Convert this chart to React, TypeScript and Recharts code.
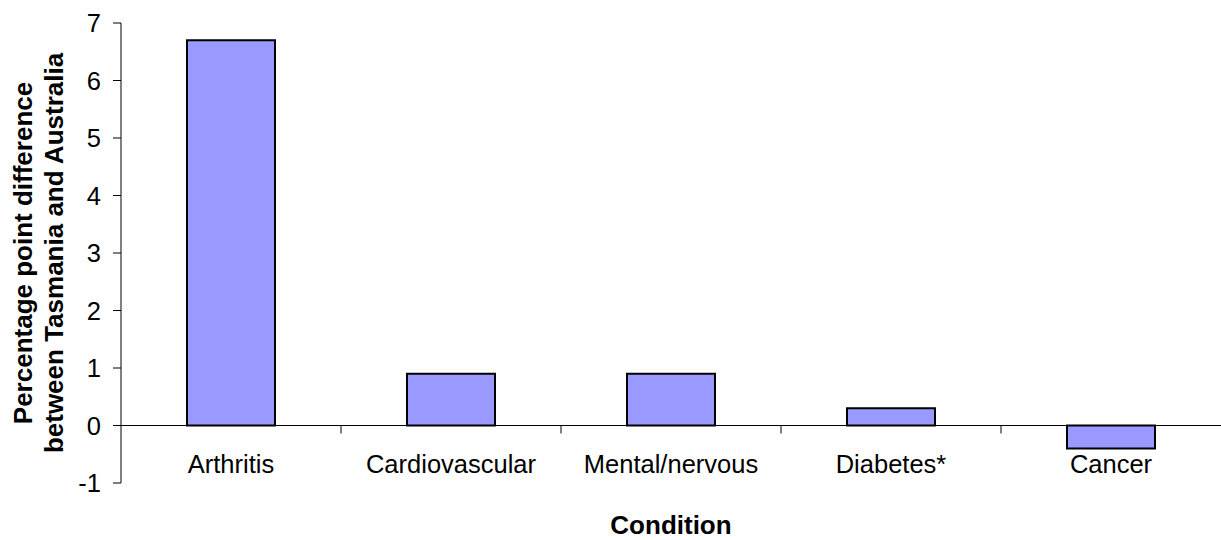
import React from 'react';
import { BarChart, Bar, XAxis, YAxis, ReferenceLine } from 'recharts';

// categories and values (percentage point difference, Tas vs Aus)
const conditions = ['Arthritis', 'Cardiovascular', 'Mental/nervous', 'Diabetes*', 'Cancer'];
const differences = [6.7, 0.9, 0.9, 0.3, -0.4];
const yTicks = [-1, 0, 1, 2, 3, 4, 5, 6, 7];

const data = conditions.map((name, i) => ({ name, value: differences[i] }));

const FONT = '"Liberation Sans", Arial, sans-serif';

const CategoryTick = (props: any) => {
  const { x, y, payload } = props;
  return (
    <text x={x} y={y - 10} textAnchor="middle" fontFamily={FONT} fontSize={25.5} fill="#000">
      {payload.value}
    </text>
  );
};

// zero line with tick marks between categories
const ZeroAxis = (props: any) => {
  const { x1, x2, y1 } = props;
  const step = (x2 - x1) / conditions.length;
  return (
    <g>
      <line x1={x1} x2={x2} y1={y1} y2={y1} stroke="#000" strokeWidth={1} />
      {conditions.slice(1).map((_, i) => (
        <line
          key={i}
          x1={x1 + step * (i + 1)}
          x2={x1 + step * (i + 1)}
          y1={y1}
          y2={y1 + 8}
          stroke="#000"
          strokeWidth={1}
        />
      ))}
    </g>
  );
};

const YTitle = (props: any) => {
  const vb = props.viewBox || { x: 0, y: 23, width: 121, height: 460 };
  const cy = vb.y + vb.height / 2;
  const lines = ['Percentage point difference', 'between Tasmania and Australia'];
  return (
    <g>
      {lines.map((t, i) => {
        const x = vb.x + 32 + i * 31;
        return (
          <text
            key={t}
            x={x}
            y={cy}
            transform={`rotate(-90, ${x}, ${cy})`}
            textAnchor="middle"
            fontFamily={FONT}
            fontWeight="bold"
            fontSize={26}
            fill="#000"
          >
            {t}
          </text>
        );
      })}
    </g>
  );
};

const XTitle = (props: any) => {
  const vb = props.viewBox || { x: 121, y: 483, width: 1100, height: 57 };
  return (
    <text
      x={vb.x + vb.width / 2}
      y={vb.y + 51}
      textAnchor="middle"
      fontFamily={FONT}
      fontWeight="bold"
      fontSize={26}
      fill="#000"
    >
      Condition
    </text>
  );
};

export default function App() {
  return (
    <div style={{ position: 'absolute', left: 0, top: 0, width: 1221, height: 540, background: '#fff' }}>
      <BarChart
        width={1221}
        height={540}
        data={data}
        margin={{ top: 23, right: 0, bottom: 0, left: 0 }}
        barCategoryGap="30%"
      >
        <XAxis
          dataKey="name"
          height={57}
          axisLine={false}
          tickLine={false}
          tickSize={0}
          tickMargin={0}
          interval={0}
          tick={<CategoryTick />}
          label={{ content: <XTitle /> }}
        />
        <YAxis
          width={121}
          domain={[-1, 7]}
          ticks={yTicks}
          interval={0}
          tickSize={8}
          tickMargin={12}
          axisLine={{ stroke: '#000', strokeWidth: 1 }}
          tickLine={{ stroke: '#000', strokeWidth: 1 }}
          tick={{ fill: '#000', fontFamily: FONT, fontSize: 25.5 }}
          label={{ content: <YTitle /> }}
        />
        <Bar dataKey="value" fill="#9999FF" stroke="#000" strokeWidth={2} isAnimationActive={false} />
        <ReferenceLine y={0} shape={<ZeroAxis />} />
      </BarChart>
    </div>
  );
}
